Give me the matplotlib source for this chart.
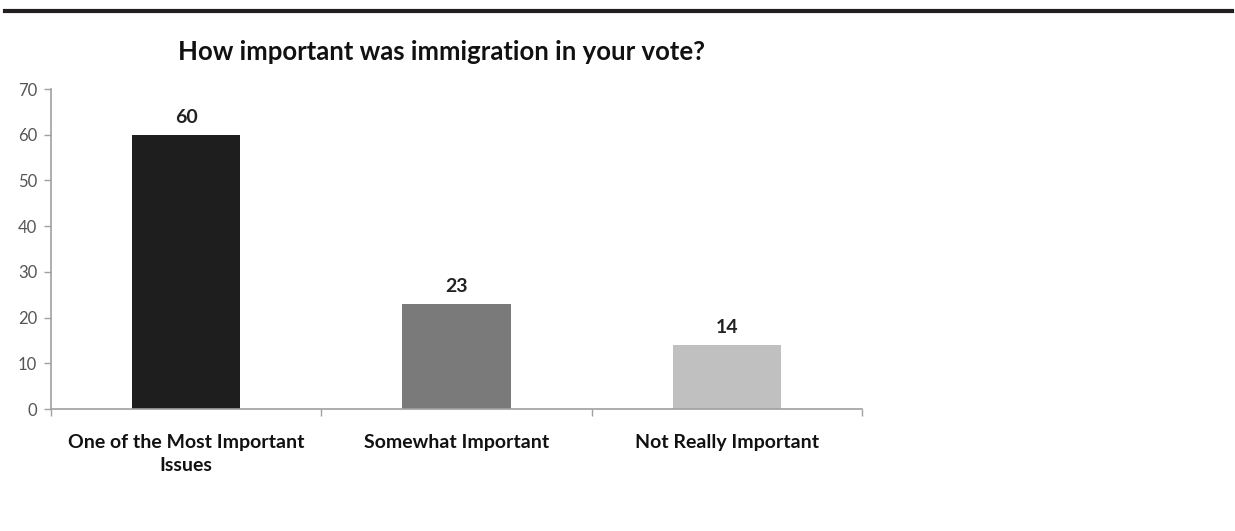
import matplotlib
matplotlib.use("Agg")
import matplotlib.pyplot as plt
from matplotlib.lines import Line2D

categories = ["One of the Most Important\nIssues", "Somewhat Important", "Not Really Important"]
values = [60, 23, 14]
bar_colors = ["#1e1e1e", "#7a7a7a", "#c0c0c0"]
y_ticks = [0, 10, 20, 30, 40, 50, 60, 70]
title = "How important was immigration in your vote?"

plt.rcParams["font.family"] = ["Lato", "DejaVu Sans"]

fig = plt.figure(figsize=(12.35, 5.31), dpi=100)
ax = fig.add_axes([51 / 1235, 122 / 531, 811 / 1235, 320 / 531])

x = list(range(len(categories)))
bars = ax.bar(x, values, width=0.4, color=bar_colors, zorder=2)
for b, v in zip(bars, values):
    ax.text(b.get_x() + b.get_width() / 2, v + 2.0, str(v), ha="center", va="bottom",
            fontsize=14, fontweight="bold", color="#222222")

ax.set_xlim(-0.5, len(categories) - 0.5)
ax.set_ylim(0, 70)
ax.set_yticks(y_ticks)
ax.set_yticklabels([str(t) for t in y_ticks], fontsize=12, color="#555555")

# category labels centred, tick marks on the category boundaries
ax.set_xticks(x)
ax.set_xticklabels(categories, fontsize=14, fontweight="bold", color="#111111", linespacing=1.45)
ax.tick_params(axis="x", length=0, pad=18)
ax.set_xticks([i - 0.5 for i in range(len(categories) + 1)], minor=True)
ax.tick_params(axis="x", which="minor", length=5, color="#a0a0a0", width=1)
ax.tick_params(axis="y", length=5, color="#a0a0a0", width=1, pad=5)

for side in ("top", "right"):
    ax.spines[side].set_visible(False)
for side in ("left", "bottom"):
    ax.spines[side].set_color("#a0a0a0")
    ax.spines[side].set_linewidth(1.2)

fig.text(442 / 1235, 1 - 52 / 531, title, ha="center", va="center",
         fontsize=18.5, fontweight="bold", color="#111111")

fig.add_artist(Line2D([5 / 1235, 1232 / 1235], [1 - 11 / 531, 1 - 11 / 531],
                      transform=fig.transFigure, color="#231f20", linewidth=3))

fig.savefig("out.png", dpi=100, facecolor="white")
